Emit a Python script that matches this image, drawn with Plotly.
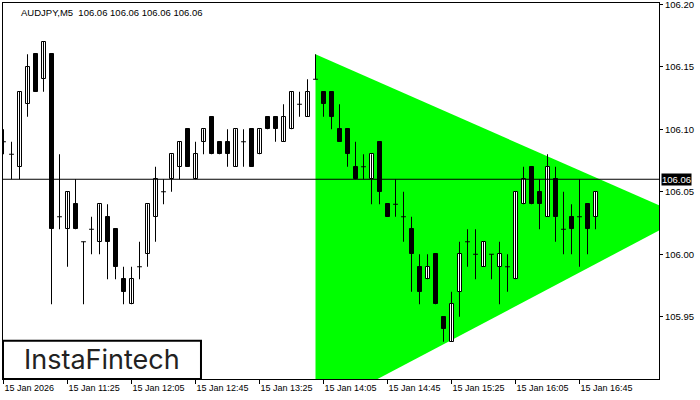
import plotly.graph_objects as go

# ---- data (AUDJPY M5, 15 Jan 2026, bars from 10:45) ----
opens = [106.09, 106.08, 106.07, 106.12, 106.16, 106.14, 106.16, 106.03, 106.02, 106.04,
         106.01, 106.02, 106.01, 106.03, 106.02, 105.98, 105.96, 105.99, 106.00, 106.03,
         106.05, 106.06, 106.07, 106.10, 106.06, 106.09, 106.11, 106.09, 106.09, 106.07,
         106.09, 106.10, 106.08, 106.11, 106.11, 106.09, 106.10, 106.12, 106.11, 106.14,
         106.13, 106.13, 106.10, 106.10, 106.07, 106.07, 106.06, 106.09, 106.04, 106.04,
         106.03, 106.02, 105.99, 105.98, 106.00, 105.95, 105.93, 105.97, 106.01, 106.00,
         105.99, 106.00, 105.99, 105.99, 105.98, 106.04, 106.07, 106.05, 106.03, 106.06,
         106.02, 106.03, 106.03, 106.04, 106.03]
highs = [106.10, 106.09, 106.13, 106.16, 106.16, 106.17, 106.16, 106.08, 106.05, 106.06,
         106.01, 106.03, 106.04, 106.04, 106.02, 105.99, 105.99, 106.01, 106.04, 106.07,
         106.06, 106.08, 106.09, 106.10, 106.09, 106.10, 106.11, 106.09, 106.10, 106.10,
         106.10, 106.10, 106.10, 106.11, 106.11, 106.12, 106.13, 106.13, 106.14, 106.16,
         106.13, 106.13, 106.12, 106.10, 106.09, 106.08, 106.08, 106.09, 106.04, 106.06,
         106.05, 106.03, 106.00, 106.00, 106.00, 105.95, 105.97, 106.01, 106.02, 106.02,
         106.01, 106.00, 106.01, 106.00, 106.05, 106.07, 106.07, 106.06, 106.08, 106.07,
         106.05, 106.04, 106.06, 106.04, 106.05]
lows = [106.08, 106.06, 106.06, 106.11, 106.13, 106.13, 105.96, 106.02, 105.99, 106.02,
        105.96, 106.00, 106.00, 105.98, 105.98, 105.96, 105.96, 105.98, 105.99, 106.01,
        106.04, 106.05, 106.06, 106.07, 106.06, 106.08, 106.08, 106.08, 106.07, 106.07,
        106.07, 106.07, 106.08, 106.10, 106.09, 106.09, 106.10, 106.11, 106.11, 106.14,
        106.11, 106.10, 106.09, 106.07, 106.06, 106.06, 106.04, 106.04, 106.03, 106.03,
        106.01, 105.97, 105.96, 105.98, 105.96, 105.93, 105.93, 105.95, 105.99, 105.98,
        105.99, 105.98, 105.96, 105.97, 105.98, 106.04, 106.04, 106.02, 106.03, 106.01,
        106.00, 106.00, 105.99, 106.00, 106.02]
closes = [106.09, 106.08, 106.13, 106.15, 106.13, 106.17, 106.02, 106.03, 106.05, 106.02,
          106.01, 106.02, 106.04, 106.01, 105.99, 105.97, 105.98, 105.99, 106.04, 106.06,
          106.05, 106.08, 106.09, 106.07, 106.08, 106.10, 106.08, 106.08, 106.08, 106.10,
          106.09, 106.07, 106.10, 106.10, 106.10, 106.11, 106.13, 106.12, 106.13, 106.14,
          106.12, 106.11, 106.09, 106.08, 106.06, 106.07, 106.08, 106.05, 106.03, 106.04,
          106.03, 106.00, 105.97, 105.99, 105.96, 105.94, 105.96, 106.00, 106.01, 106.00,
          106.01, 106.00, 106.00, 105.99, 106.05, 106.06, 106.04, 106.04, 106.07, 106.03,
          106.02, 106.02, 106.03, 106.02, 106.05]

tick_bars = [0, 8, 16, 24, 32, 40, 48, 56, 64, 72]
tick_labels = ["15 Jan 2026", "15 Jan 11:25", "15 Jan 12:05", "15 Jan 12:45", "15 Jan 13:25",
               "15 Jan 14:05", "15 Jan 14:45", "15 Jan 15:25", "15 Jan 16:05", "15 Jan 16:45"]
price_ticks = [105.95, 106.00, 106.05, 106.10, 106.15, 106.20]

symbol_title = "AUDJPY,M5  106.06 106.06 106.06 106.06"
bid_price = 106.06

# symmetrical triangle pattern (bar index, price)
tri_x = [39, 39, 85.2]
tri_y = [106.160, 105.874, 106.030]

FONT = "Tahoma, 'Liberation Sans', Arial, sans-serif"

n = len(opens)
idx = list(range(n))

fig = go.Figure()

# wicks
wx, wy = [], []
for i in idx:
    wx += [i, i, None]
    wy += [lows[i], highs[i], None]
fig.add_trace(go.Scatter(x=wx, y=wy, mode="lines", line=dict(color="black", width=1),
                         hoverinfo="skip", showlegend=False))

# bodies
up = [i for i in idx if closes[i] > opens[i]]
dn = [i for i in idx if closes[i] < opens[i]]
dj = [i for i in idx if closes[i] == opens[i]]

fig.add_trace(go.Bar(x=up, base=[opens[i] for i in up],
                     y=[closes[i] - opens[i] for i in up], width=0.5,
                     marker=dict(color="white", line=dict(color="black", width=1)),
                     showlegend=False))
fig.add_trace(go.Bar(x=dn, base=[closes[i] for i in dn],
                     y=[opens[i] - closes[i] for i in dn], width=0.5,
                     marker=dict(color="black", line=dict(color="black", width=1)),
                     showlegend=False))

djx, djy = [], []
for i in dj:
    djx += [i - 0.3, i + 0.3, None]
    djy += [opens[i], opens[i], None]
fig.add_trace(go.Scatter(x=djx, y=djy, mode="lines", line=dict(color="black", width=1),
                         hoverinfo="skip", showlegend=False))

# triangle (drawn below the traces)
tri_path = "M " + " L ".join(f"{x},{y}" for x, y in zip(tri_x, tri_y)) + " Z"
fig.add_shape(type="path", xref="x", yref="y", path=tri_path,
              fillcolor="#00FF00", line=dict(width=0), layer="below")

# bid line
fig.add_shape(type="line", xref="paper", x0=0, x1=1, yref="y", y0=bid_price, y1=bid_price,
              line=dict(color="black", width=1), layer="above")

# logo box
fig.add_shape(type="rect", xref="paper", yref="paper", x0=0.0, x1=0.3018, y0=0.0, y1=0.102,
              line=dict(color="black", width=2), fillcolor="white", layer="above")

fig.add_annotation(text="InstaFintech", xref="paper", yref="paper", x=0.151, y=0.052,
                   xanchor="center", yanchor="middle", showarrow=False,
                   font=dict(family="Inter, Lato, sans-serif", size=27, color="#222222"))

fig.add_annotation(text=symbol_title, xref="paper", yref="paper", x=0.0244, y=0.994,
                   xanchor="left", yanchor="top", showarrow=False,
                   font=dict(family=FONT, size=9.5, color="black"))

fig.add_annotation(text=f"{bid_price:.2f}", xref="paper", yref="y", x=1, y=bid_price,
                   xanchor="left", yanchor="middle", xshift=2, showarrow=False,
                   bgcolor="black", borderpad=0,
                   font=dict(family=FONT, size=9.5, color="white"))

fig.update_layout(
    width=700, height=400,
    margin=dict(l=3, r=41, t=3, b=21, autoexpand=False),
    paper_bgcolor="white", plot_bgcolor="white",
    barmode="overlay", bargap=0,
    showlegend=False,
    xaxis=dict(range=[-0.0625, 81.9375], tickvals=tick_bars, ticktext=tick_labels,
               ticks="outside", ticklen=4, tickcolor="black",
               ticklabelposition="outside right", automargin=False,
               tickfont=dict(family=FONT, size=9, color="black"),
               showline=True, mirror=True, linecolor="black", linewidth=1,
               showgrid=False, zeroline=False, fixedrange=True),
    yaxis=dict(range=[105.9002, 106.2010], side="right", tickvals=price_ticks,
               ticktext=[f"{v:.2f}" for v in price_ticks],
               ticks="outside", ticklen=3, tickcolor="black",
               ticklabeloverflow="allow", automargin=False,
               tickfont=dict(family=FONT, size=9.5, color="black"),
               showline=True, mirror=True, linecolor="black", linewidth=1,
               showgrid=False, zeroline=False, fixedrange=True),
)

fig.write_html("out.html", config={"displayModeBar": False},
               post_script="document.body.style.margin='0';")
